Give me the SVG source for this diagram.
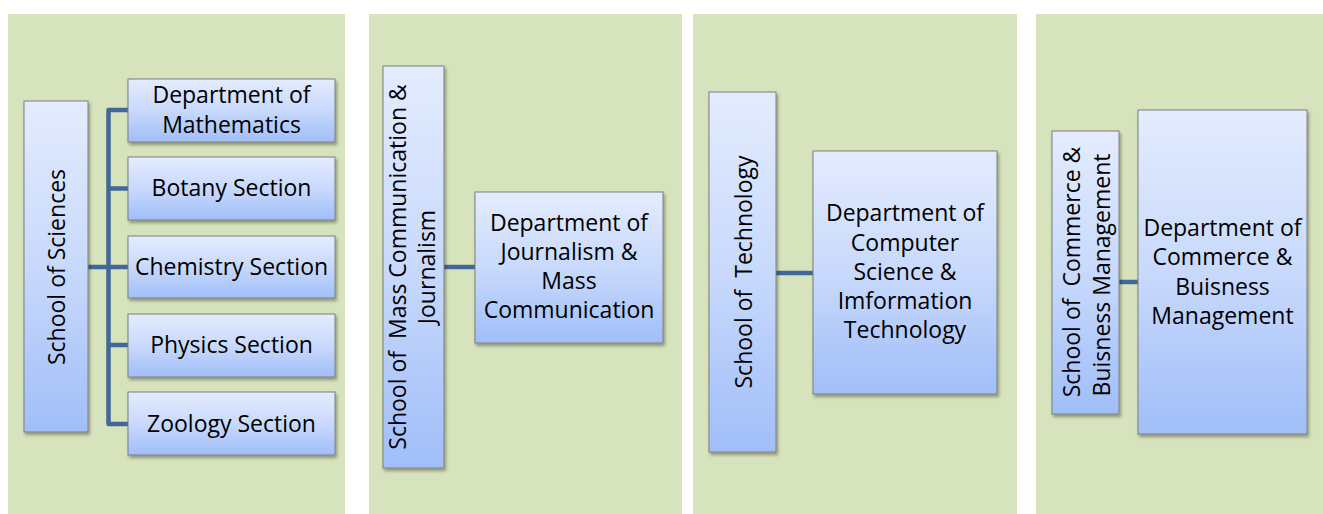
<svg xmlns="http://www.w3.org/2000/svg" width="1323" height="514" viewBox="0 0 1323 514">
<style>
.panel{fill:#D7E3BC}
.box{fill:url(#g);stroke:#7F7F7F;stroke-width:1;filter:url(#sh)}
.t{font-family:"Open Sans","Liberation Sans",sans-serif;font-size:23px;fill:#000;text-anchor:middle}
.c{fill:none;stroke:#41689A;stroke-width:4.5;stroke-linejoin:round;stroke-linecap:butt}
</style>
<defs>
<linearGradient id="g" x1="0" y1="0" x2="0" y2="1">
<stop offset="0" stop-color="#E4ECFE"/>
<stop offset="0.5" stop-color="#C8D9FC"/>
<stop offset="1" stop-color="#A0BEF8"/>
</linearGradient>
<filter id="sh" x="-10%" y="-10%" width="130%" height="130%">
<feDropShadow dx="1.5" dy="2.5" stdDeviation="1.8" flood-color="#000" flood-opacity="0.35"/>
</filter>
</defs>
<rect width="1323" height="514" fill="#FFFFFF"/>
<g id="panels">
<rect class="panel" x="8" y="14" width="337" height="500"/>
<rect class="panel" x="369" y="14" width="313" height="500"/>
<rect class="panel" x="693" y="14" width="324" height="500"/>
<rect class="panel" x="1036" y="14" width="287" height="500"/>
</g>
<g id="connectors">
<path class="c" d="M88 267 H128"/>
<path class="c" d="M128 110 H108.5 V424 H128"/>
<path class="c" d="M108.5 188.5 H128 M108.5 345 H128"/>
<path class="c" d="M444 267 H475"/>
<path class="c" d="M776 273 H813"/>
<path class="c" d="M1119 282 H1138"/>
</g>
<g id="school-sciences">
<rect class="box" x="24" y="101" width="64" height="331"/>
<text class="t" transform="translate(65 267) rotate(-90)">School of Sciences</text>
</g>
<g id="dept-mathematics">
<rect class="box" x="128" y="79" width="207" height="63"/>
<text class="t" x="231.5" y="103">Department of</text>
<text class="t" x="231.5" y="133">Mathematics</text>
</g>
<g id="botany">
<rect class="box" x="128" y="157" width="207" height="63"/>
<text class="t" x="231.5" y="196">Botany Section</text>
</g>
<g id="chemistry">
<rect class="box" x="128" y="236" width="207" height="62"/>
<text class="t" x="231.5" y="275">Chemistry Section</text>
</g>
<g id="physics">
<rect class="box" x="128" y="314" width="207" height="63"/>
<text class="t" x="231.5" y="353">Physics Section</text>
</g>
<g id="zoology">
<rect class="box" x="128" y="392" width="207" height="63"/>
<text class="t" x="231.5" y="432">Zoology Section</text>
</g>
<g id="school-mass-comm">
<rect class="box" x="383" y="66" width="61" height="402"/>
<text class="t" transform="translate(406 267) rotate(-90)" xml:space="preserve">School of  Mass Communication &amp;</text>
<text class="t" transform="translate(435 267) rotate(-90)">Journalism</text>
</g>
<g id="dept-journalism">
<rect class="box" x="475" y="192" width="188" height="151"/>
<text class="t" x="569" y="231">Department of</text>
<text class="t" x="569" y="260">Journalism &amp;</text>
<text class="t" x="569" y="289">Mass</text>
<text class="t" x="569" y="318">Communication</text>
</g>
<g id="school-technology">
<rect class="box" x="709" y="92" width="67" height="360"/>
<text class="t" transform="translate(752 272) rotate(-90)" xml:space="preserve">School of  Technology</text>
</g>
<g id="dept-computer-science">
<rect class="box" x="813" y="151" width="184" height="243"/>
<text class="t" x="905" y="221">Department of</text>
<text class="t" x="905" y="251">Computer</text>
<text class="t" x="905" y="280">Science &amp;</text>
<text class="t" x="905" y="309">Imformation</text>
<text class="t" x="905" y="338">Technology</text>
</g>
<g id="school-commerce">
<rect class="box" x="1052" y="131" width="67" height="283"/>
<text class="t" transform="translate(1080 272) rotate(-90)" xml:space="preserve">School of  Commerce &amp;</text>
<text class="t" transform="translate(1110 275) rotate(-90)">Buisness Management</text>
</g>
<g id="dept-commerce">
<rect class="box" x="1138" y="110" width="169" height="324"/>
<text class="t" x="1222.5" y="236">Department of</text>
<text class="t" x="1222.5" y="265">Commerce &amp;</text>
<text class="t" x="1222.5" y="295">Buisness</text>
<text class="t" x="1222.5" y="324">Management</text>
</g>
</svg>
